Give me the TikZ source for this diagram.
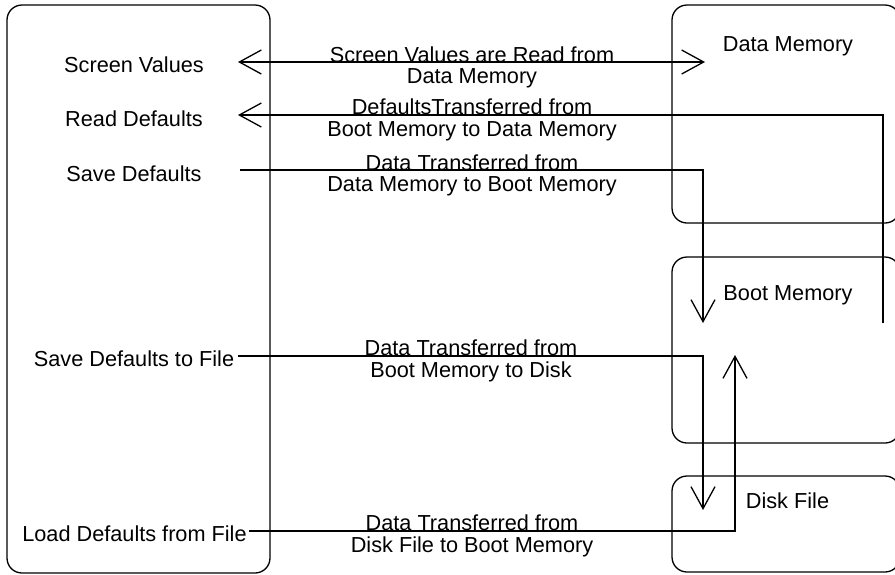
\documentclass[tikz,border=0pt]{standalone}
\usepackage{fontspec}
\setmainfont{Liberation Sans}
\usetikzlibrary{arrows.meta}
\begin{document}
\begin{tikzpicture}[x=1pt,y=-1pt,
  box/.style={draw,line width=1.3pt,rounded corners=15pt,inner sep=0pt},
  conn/.style={line width=1.3pt},
  tip/.tip={Straight Barb[length=22pt,width=24pt,line width=1.3pt]},
  arr/.style={conn,-tip},
  txt/.style={font=\fontsize{21.7}{21.5}\selectfont,inner sep=0pt,anchor=base,align=center}
]
\useasboundingbox (0,0) rectangle (895,574);
\clip (0,0) rectangle (895,574);
% boxes
\node[box,minimum width=263pt,minimum height=568pt] (ui) at (138.5,289) {};
\node[box,minimum width=228pt,minimum height=218pt] (dm) at (786,114) {};
\node[box,minimum width=228pt,minimum height=186pt] (bm) at (786,350) {};
\node[box,minimum width=228pt,minimum height=96pt] (df) at (786,524) {};
% box labels
\node[txt] (dmt) at (788,51.5) {Data Memory};
\node[txt] (bmt) at (788,300.5) {Boot Memory};
\node[txt] (dft) at (787.5,508) {Disk File};
% left labels
\node[txt] (sv) at (134,72.5) {Screen Values};
\node[txt] (rd) at (134,126.5) {Read Defaults};
\node[txt] (sd) at (134,181.5) {Save Defaults};
\node[txt] (sdf) at (134,366) {Save Defaults to File};
\node[txt] (ldf) at (134.5,541.5) {Load Defaults from File};
% connector ends
\coordinate (svA) at (238,62);
\coordinate (dmA) at (705,62);
\coordinate (rdA) at (238,115);
\coordinate (bmR) at (883,323);
\coordinate (sdA) at (240,170);
\coordinate (bmA) at (703,323);
\coordinate (sdfA) at (238,356);
\coordinate (dfA) at (703,510);
\coordinate (ldfA) at (249,531);
\coordinate (bmB) at (735,355);
% connectors
\draw[conn,tip-tip] (svA) -- (dmA);
\draw[arr] (bmR) |- (rdA);
\draw[arr] (sdA) -| (bmA);
\draw[arr] (sdfA) -| (dfA);
\draw[arr] (ldfA) -| (bmB);
% connector labels (base = last line)
\node[txt] (l1) at (472,83.5) {Screen Values are Read from\\Data Memory};
\node[txt] (l2) at (472,136) {DefaultsTransferred from\\Boot Memory to Data Memory};
\node[txt] (l3) at (472,191.5) {Data Transferred from\\Data Memory to Boot Memory};
\node[txt] (l4) at (471,377) {Data Transferred from\\Boot Memory to Disk};
\node[txt] (l5) at (472,552) {Data Transferred from\\Disk File to Boot Memory};
\end{tikzpicture}
\end{document}
